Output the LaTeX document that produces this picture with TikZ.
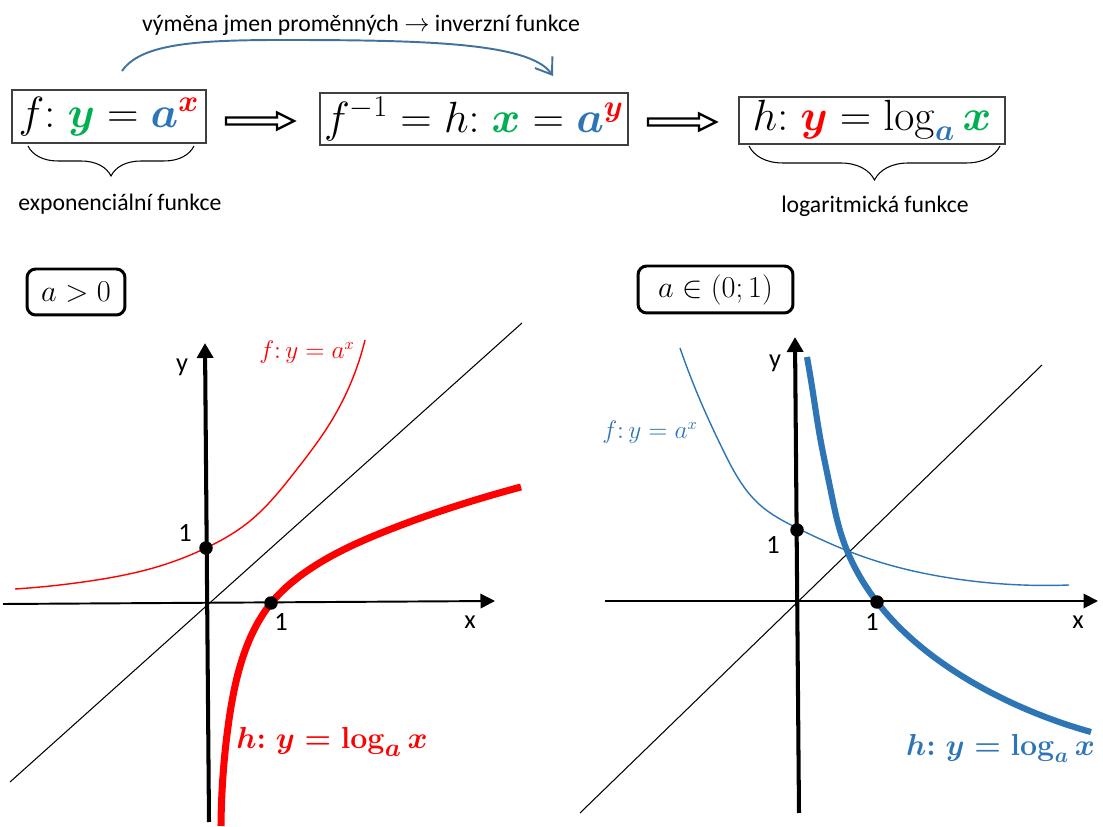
\documentclass[tikz,border=0pt]{standalone}
\usepackage{amsmath}
\usepackage[no-math]{fontspec}
\setmainfont{Carlito}
\usetikzlibrary{arrows.meta,decorations.pathreplacing,hobby}
\definecolor{mygreen}{HTML}{00B050}
\definecolor{myblue}{HTML}{2E75B6}
\definecolor{myred}{HTML}{FF0000}
\definecolor{arrowblue}{HTML}{41719C}
\newcommand{\bs}[1]{\boldsymbol{#1}}
\begin{document}
\begin{tikzpicture}[x=0.02cm,y=-0.02cm,
  eqbox/.style={draw=black!75, line width=0.8pt, inner sep=0pt, font=\fontsize{24}{28}\selectfont},
  condbox/.style={draw, line width=1.7pt, rounded corners=5pt, inner sep=0pt, font=\fontsize{17}{20}\selectfont},
  note/.style={font=\fontsize{13.5}{16}\selectfont},
  axlabel/.style={font=\fontsize{15}{18}\selectfont},
  xaxis/.style={line width=1.1pt, -{Triangle[length=0.29cm,width=0.29cm]}},
  yaxis/.style={line width=2.3pt, -{Triangle[length=0.3cm,width=0.32cm]}},
  diag/.style={line width=0.6pt},
  thinf/.style={line width=0.8pt},
  thickh/.style={line width=4pt},
  dot/.style={circle, fill=black, inner sep=0pt, minimum size=0.27cm},
  blockarr/.style={line width=1.3pt, line join=miter},
  bracedeco/.style={decorate, line width=0.6pt}
]
\useasboundingbox (0,0) rectangle (1103,827);

% ---------- top row ----------
\node[eqbox, minimum width=3.88cm, minimum height=1.06cm] (b1) at (109,116.5)
  {$f{:}\;\textcolor{mygreen}{\bs{y}} = \textcolor{myblue}{\bs{a}}^{\textcolor{myred}{\bs{x}}}$};
\node[eqbox, minimum width=6.16cm, minimum height=1.04cm] (b2) at (474,119)
  {$f^{-1} = h{:}\;\textcolor{mygreen}{\bs{x}} = \textcolor{myblue}{\bs{a}}^{\textcolor{myred}{\bs{y}}}$};
\node[eqbox, minimum width=5.32cm, minimum height=0.94cm] (b3) at (872,120.5)
  {$h{:}\;\textcolor{myred}{\bs{y}} = \log_{\textcolor{myblue}{\bs{a}}} \textcolor{mygreen}{\bs{x}}$};

% block arrows
\coordinate (ar1) at (226,121);
\coordinate (ar2) at (648,122);
\foreach \c in {ar1,ar2}{
  \draw[blockarr] ([shift={(0,-3.5)}]\c) -- ++(51,0) -- ++(0,-5) -- ++(17,8.5) -- ++(-17,8.5) -- ++(0,-5) -- ++(-51,0) -- cycle;
}

% curved arrow
\coordinate (cs) at (122,71);
\coordinate (ce) at (553,76);
\draw[arrowblue, line width=1.1pt, -{Straight Barb[length=0.3cm,width=0.42cm]}]
  (cs) .. controls (140,45) and (190,40) .. (280,40) .. controls (420,40) and (530,42) .. (ce);
\node[note] (swap) at (361,25) {výměna jmen proměnných $\rightarrow$ inverzní funkce};

% braces
\coordinate (br1a) at (28,146);
\coordinate (br1b) at (194,146);
\draw[bracedeco, decoration={brace, mirror, amplitude=0.6cm}] (br1a) -- (br1b);
\node[note] (expo) at (120,204) {exponenciální funkce};
\coordinate (br2a) at (749,146);
\coordinate (br2b) at (1000,146);
\draw[bracedeco, decoration={brace, mirror, amplitude=0.68cm}] (br2a) -- (br2b);
\node[note] (loga) at (875,206) {logaritmická funkce};

% ---------- left panel ----------
\node[condbox, minimum width=1.96cm, minimum height=0.92cm] (c1) at (76,292) {$a>0$};
\coordinate (lxs) at (3,604);
\coordinate (lxe) at (495,601);
\coordinate (lys) at (209,822);
\coordinate (lye) at (205,343);
\coordinate (lds) at (10,782);
\coordinate (lde) at (522,323);
\draw[diag] (lds) -- (lde);
\draw[xaxis] (lxs) -- (lxe);
\draw[myred, thinf, use Hobby shortcut] (15,589) .. (90,581) .. (160,566) .. (206,548) .. (250,521) .. (294,473) .. (332,420) .. (365,340);
\draw[myred, thickh, use Hobby shortcut] (221,826) .. (228,727) .. (239,670) .. (252,634) .. (272,602) .. (300,576) .. (381,533) .. (450,508) .. (521,487);
\draw[yaxis] (lys) -- (lye);
\node[dot] (ld1) at (206,548) {};
\node[dot] (ld2) at (271,603) {};
\node[axlabel] (ly) at (182,367) {y};
\node[axlabel] (lx) at (470,622) {x};
\node[axlabel] (l1y) at (185,533) {1};
\node[axlabel] (l1x) at (281,622) {1};
\node[font=\fontsize{13.5}{16}\selectfont, text=myred] (lf) at (307,352) {$f{:}\,y=a^x$};
\node[font=\fontsize{19}{22}\selectfont, text=myred] (lh) at (332,742) {$\bs{h{:}\;y=\log_a x}$};

% ---------- right panel ----------
\node[condbox, minimum width=3.1cm, minimum height=0.94cm] (c2) at (715.5,289.5) {$a\in(0;1)$};
\coordinate (rxs) at (605,601);
\coordinate (rxe) at (1098,601);
\coordinate (rys) at (799,813);
\coordinate (rye) at (795,337);
\coordinate (rds) at (580,813);
\coordinate (rde) at (1042,365);
\draw[diag] (rds) -- (rde);
\draw[xaxis] (rxs) -- (rxe);
\draw[myblue, thinf, use Hobby shortcut] (680,348) .. (700,400) .. (723,450) .. (760,505) .. (797,528) .. (867,558) .. (950,578) .. (1069,585);
\draw[myblue, line width=3.5pt, use Hobby shortcut] (807,357) .. (813,393) .. (820,437) .. (830,487) .. (842,537) .. (877,602) .. (948,667) .. (1010,702) .. (1091,732);
\draw[yaxis] (rys) -- (rye);
\node[dot] (rd1) at (797,530) {};
\node[dot] (rd2) at (877,602) {};
\node[axlabel] (ry) at (775,363) {y};
\node[axlabel] (rx) at (1078,622) {x};
\node[axlabel] (r1y) at (773,545) {1};
\node[axlabel] (r1x) at (872,622) {1};
\node[font=\fontsize{13.5}{16}\selectfont, text=myblue] (rf) at (650,432) {$f{:}\,y=a^x$};
\node[font=\fontsize{18.5}{22}\selectfont, text=myblue, anchor=east] (rh) at (1101,748) {$\bs{h{:}\;y=\log_a x}$};
\end{tikzpicture}
\end{document}
